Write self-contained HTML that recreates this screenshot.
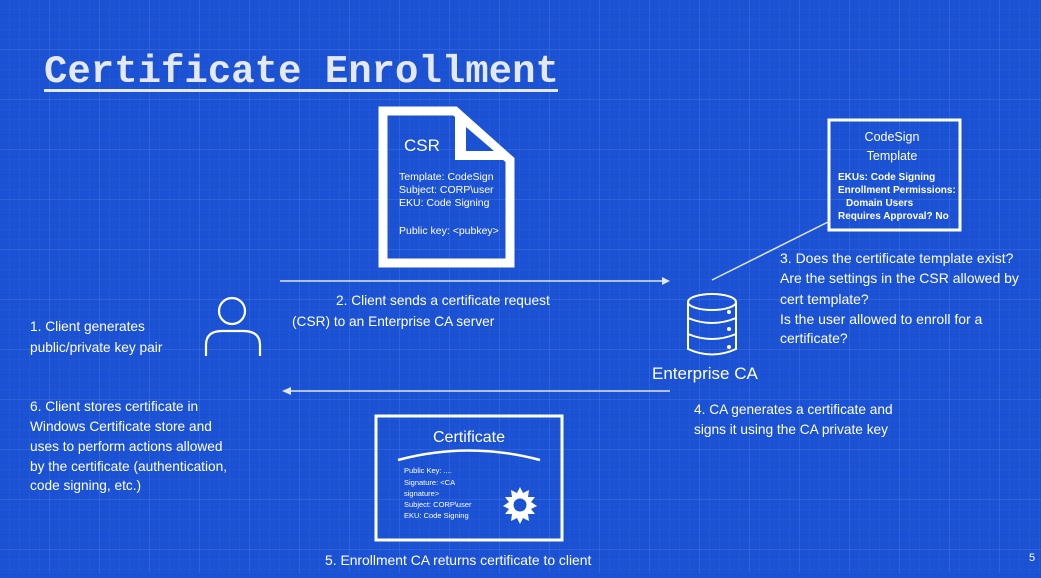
<!DOCTYPE html>
<html><head><meta charset="utf-8"><style>
html,body{margin:0;padding:0;}
body{width:1041px;height:573px;overflow:hidden;background:#1b52d4;}
svg text{font-family:"Liberation Sans",sans-serif;fill:#fff;}
</style></head><body>
<svg width="1041" height="573" xmlns="http://www.w3.org/2000/svg">
<defs>
<pattern id="g" width="10" height="10" patternUnits="userSpaceOnUse"><path d="M10 0V10H0" fill="none" stroke="#3f6fe0" stroke-width="0.6" opacity="0.6"/></pattern>
<pattern id="G" width="50" height="50" patternUnits="userSpaceOnUse"><path d="M50 0V50H0" fill="none" stroke="#4a79e6" stroke-width="1" opacity="0.7"/></pattern>
</defs>
<rect width="1041" height="573" fill="#1b52d4"/>
<rect width="1041" height="573" fill="url(#g)"/>
<rect width="1041" height="573" fill="url(#G)"/>
<text x="44" y="82" style="font-family:'Liberation Mono',monospace;font-weight:bold;font-size:39px;fill:#e4e8f0">Certificate Enrollment</text>
<rect x="44" y="89" width="514" height="3" fill="#e4e8f0"/>
<!-- CSR doc -->
<path d="M383 111 H455 L510 160 V263 H383 Z" fill="none" stroke="#fff" stroke-width="9" stroke-linejoin="miter"/>
<path d="M455 111 L510 160 H455 Z" fill="#fff"/>
<path d="M466 127 L494 151 H466 Z" fill="#1b52d4"/>
<text x="404" y="151" font-size="17">CSR</text>
<text font-size="10.5"><tspan x="399" y="180">Template: CodeSign</tspan><tspan x="399" y="193">Subject: CORP\user</tspan><tspan x="399" y="206">EKU: Code Signing</tspan><tspan x="399" y="234">Public key: &lt;pubkey&gt;</tspan></text>
<!-- template box -->
<rect x="829" y="120" width="131" height="110" fill="none" stroke="#fff" stroke-width="3"/>
<text font-size="12.5" text-anchor="middle"><tspan x="892" y="141">CodeSign</tspan><tspan x="892" y="160">Template</tspan></text>
<text font-size="10" font-weight="bold"><tspan x="838" y="180">EKUs: Code Signing</tspan><tspan x="838" y="193">Enrollment Permissions:</tspan><tspan x="846" y="206">Domain Users</tspan><tspan x="838" y="219">Requires Approval? No</tspan></text>
<!-- arrows -->
<line x1="280" y1="281" x2="668" y2="281" stroke="#dfe6f7" stroke-width="1.5"/>
<path d="M670 281 L662 277 L662 285Z" fill="#dfe6f7"/>
<line x1="712" y1="280" x2="830" y2="221" stroke="#dfe6f7" stroke-width="1.5"/>
<line x1="290" y1="391" x2="670" y2="391" stroke="#dfe6f7" stroke-width="1.5"/>
<path d="M282 391 L291 387 L291 395Z" fill="#dfe6f7"/>
<!-- person -->
<circle cx="232" cy="311" r="13" fill="none" stroke="#fff" stroke-width="2.2"/>
<path d="M206 356 V345 Q206 331 222 331 H243 Q260 331 260 345 V356" fill="none" stroke="#fff" stroke-width="2.2"/>
<!-- database -->
<g fill="none" stroke="#fff" stroke-width="2">
<ellipse cx="712" cy="302" rx="24" ry="8"/>
<path d="M688 302 V349 Q712 360 736 349 V302"/>
<path d="M688 318 Q712 328 736 318"/>
<path d="M688 334 Q712 344 736 334"/>
</g>
<circle cx="729" cy="312" r="2" fill="#fff"/><circle cx="729" cy="329" r="2" fill="#fff"/><circle cx="729" cy="347" r="2" fill="#fff"/>
<text x="652" y="379" font-size="17">Enterprise CA</text>
<!-- labels -->
<text font-size="13.7"><tspan x="336" y="305">2. Client sends a certificate request</tspan><tspan x="292" y="326">(CSR) to an Enterprise CA server</tspan></text>
<text font-size="13.7"><tspan x="30" y="331">1. Client generates</tspan><tspan x="30" y="352">public/private key pair</tspan></text>
<text font-size="14"><tspan x="780" y="263">3. Does the certificate template exist?</tspan><tspan x="780" y="283">Are the settings in the CSR allowed by</tspan><tspan x="780" y="304">cert template?</tspan><tspan x="780" y="324">Is the user allowed to enroll for a</tspan><tspan x="780" y="343">certificate?</tspan></text>
<text font-size="13.7"><tspan x="30" y="411">6. Client stores certificate in</tspan><tspan x="30" y="431">Windows Certificate store and</tspan><tspan x="30" y="451">uses to perform actions allowed</tspan><tspan x="30" y="471">by the certificate (authentication,</tspan><tspan x="30" y="490">code signing, etc.)</tspan></text>
<text font-size="13.7"><tspan x="694" y="414">4. CA generates a certificate and</tspan><tspan x="694" y="434">signs it using the CA private key</tspan></text>
<text x="325" y="565" font-size="13.9">5. Enrollment CA returns certificate to client</text>
<text x="1029" y="561" font-size="11">5</text>
<!-- certificate -->
<rect x="376" y="416" width="186" height="124" fill="none" stroke="#fff" stroke-width="3"/>
<text x="469" y="442" font-size="16" text-anchor="middle">Certificate</text>
<path d="M398 460 Q469 441 540 460" fill="none" stroke="#fff" stroke-width="2.5"/>
<text font-size="7.5"><tspan x="404" y="473">Public Key: ....</tspan><tspan x="404" y="485">Signature: &lt;CA</tspan><tspan x="404" y="496">signature&gt;</tspan><tspan x="404" y="507">Subject: CORP\user</tspan><tspan x="404" y="518">EKU: Code Signing</tspan></text>
<polygon points="520,487 523,493 529,490 528,497 535,497 531,502 537,506 531,509 535,514 528,514 529,521 523,518 520,524 517,518 511,521 512,514 505,514 509,509 503,506 509,502 505,497 512,497 511,490 517,493" fill="#fff"/>
<circle cx="520" cy="505" r="6.5" fill="#1b52d4"/>
</svg>
</body></html>
